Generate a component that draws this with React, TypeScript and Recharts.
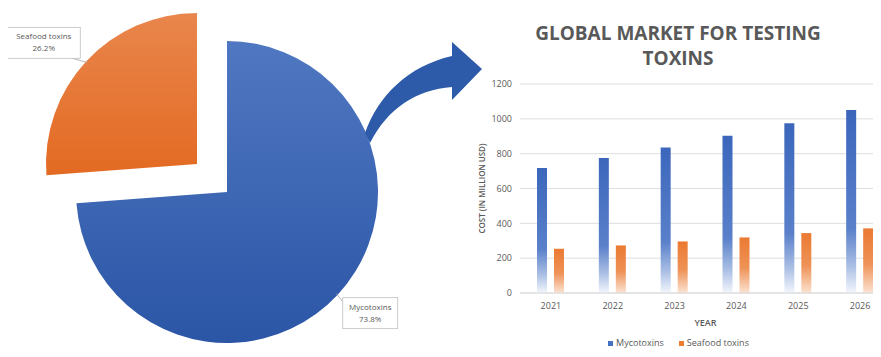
import React from 'react';
import { PieChart, Pie, Cell, BarChart, Bar, XAxis, YAxis, CartesianGrid, Legend } from 'recharts';

const shareNames = ['Mycotoxins', 'Seafood toxins'];
const shareValues = [73.8, 26.2];

const years = ['2021', '2022', '2023', '2024', '2025', '2026'];
const mycotoxins = [718, 775, 836, 903, 975, 1051];
const seafood = [254, 273, 296, 319, 344, 371];
const costTicks = [0, 200, 400, 600, 800, 1000, 1200];

const pieData = shareNames.map((name, i) => ({ name, value: shareValues[i] }));
const barData = years.map((year, i) => ({ year, Mycotoxins: mycotoxins[i], 'Seafood toxins': seafood[i] }));

const GRAY = '#595959';
const FONT = '"Open Sans", "DejaVu Sans", sans-serif';
const RADIAN = Math.PI / 180;

// boxed data label with a short leader line, only for the given slice
function boxLabel(show: number) {
  return (p: any) => {
    if (p.index !== show) return null;
    const cos = Math.cos(-p.midAngle * RADIAN);
    const sin = Math.sin(-p.midAngle * RADIAN);
    const px = p.cx + p.outerRadius * cos;
    const py = p.cy + p.outerRadius * sin;
    const w = p.name.length * 4.5 + 10;
    const h = 31;
    const bx = cos < 0 ? px - 6 - w : px + 5;
    const by = sin < 0 ? py - 3 - h : py + 3;
    const lx = cos < 0 ? bx + w - 8 : bx;
    const ly = sin < 0 ? by + h : by + 4;
    return (
      <g>
        <line x1={lx} y1={ly} x2={px - cos * 2} y2={py - sin * 2} stroke="#a6a6a6" strokeWidth={0.8} />
        <rect x={bx} y={by} width={w} height={h} fill="#fff" stroke="#bfbfbf" strokeWidth={0.8} />
        <text x={bx + w / 2} y={by + 12} textAnchor="middle" fontSize={8} fill={GRAY} fontFamily={FONT}>
          {p.name}
        </text>
        <text x={bx + w / 2} y={by + 24} textAnchor="middle" fontSize={8} fill={GRAY} fontFamily={FONT}>
          {(p.percent * 100).toFixed(1)}%
        </text>
      </g>
    );
  };
}

function LegendContent() {
  const items = [
    { label: 'Mycotoxins', color: '#4472c4' },
    { label: 'Seafood toxins', color: '#ed7d31' },
  ];
  return (
    <div style={{ height: 12, display: 'flex', justifyContent: 'center', alignItems: 'center', gap: 15, paddingRight: 12 }}>
      {items.map((it) => (
        <div key={it.label} style={{ display: 'flex', alignItems: 'center', gap: 3, fontSize: 9, color: GRAY, fontFamily: FONT, lineHeight: '12px' }}>
          <span style={{ width: 5, height: 5, background: it.color, display: 'inline-block' }} />
          {it.label}
        </div>
      ))}
    </div>
  );
}

export default function App() {
  return (
    <div style={{ position: 'relative', width: 881, height: 357, margin: -8, overflow: 'hidden', background: '#fff', fontFamily: FONT }}>
      <div style={{ position: 'absolute', left: 0, top: 0 }}>
        <PieChart width={440} height={357} margin={{ top: 0, right: 0, bottom: 0, left: 0 }}>
          <defs>
            <linearGradient id="pieBlue" x1="0" y1="0" x2="0" y2="1">
              <stop offset="0%" stopColor="#5077c1" />
              <stop offset="100%" stopColor="#2b56a6" />
            </linearGradient>
            <linearGradient id="pieOrange" x1="0" y1="0" x2="0" y2="1">
              <stop offset="0%" stopColor="#e9864c" />
              <stop offset="100%" stopColor="#e36a22" />
            </linearGradient>
          </defs>
          <Pie
            data={pieData}
            dataKey="value"
            nameKey="name"
            cx={227}
            cy={192}
            outerRadius={151}
            startAngle={90}
            endAngle={-270}
            stroke="none"
            labelLine={false}
            label={boxLabel(0)}
            isAnimationActive={false}
          >
            <Cell fill="url(#pieBlue)" />
            <Cell fill="transparent" />
          </Pie>
          {/* exploded slice */}
          <Pie
            data={pieData}
            dataKey="value"
            nameKey="name"
            cx={197}
            cy={164}
            outerRadius={151}
            startAngle={90}
            endAngle={-270}
            stroke="none"
            labelLine={false}
            label={boxLabel(1)}
            isAnimationActive={false}
          >
            <Cell fill="transparent" />
            <Cell fill="url(#pieOrange)" />
          </Pie>
        </PieChart>
      </div>

      <svg width={881} height={357} style={{ position: 'absolute', left: 0, top: 0, pointerEvents: 'none' }}>
        <path
          d="M 365 133 C 378 96, 408 66, 452 56 L 452 42 L 482 69 L 452 100 L 452 87 C 416 90, 388 108, 370 143 Z"
          fill="#2d5ba9"
        />
      </svg>

      <div style={{ position: 'absolute', left: 478, top: 21, width: 400, textAlign: 'center', color: GRAY, fontWeight: 700, fontSize: 19, lineHeight: '25px', fontFamily: FONT }}>
        GLOBAL MARKET FOR TESTING
        <br />
        TOXINS
      </div>

      <div style={{ position: 'absolute', left: 470, top: 0 }}>
        <BarChart width={421} height={357} data={barData} margin={{ top: 84, right: 0, bottom: 8, left: 8 }} barSize={10} barGap={7}>
          <defs>
            <linearGradient id="barBlue" x1="0" y1="0" x2="0" y2="1">
              <stop offset="0%" stopColor="#3b66bb" />
              <stop offset="65%" stopColor="#5a80ca" />
              <stop offset="85%" stopColor="#a9bee4" />
              <stop offset="100%" stopColor="#f3f6fc" />
            </linearGradient>
            <linearGradient id="barOrange" x1="0" y1="0" x2="0" y2="1">
              <stop offset="0%" stopColor="#ea7a32" />
              <stop offset="55%" stopColor="#ef9257" />
              <stop offset="100%" stopColor="#fbe3d2" />
            </linearGradient>
          </defs>
          <CartesianGrid vertical={false} stroke="#dedede" />
          <XAxis
            dataKey="year"
            height={44}
            tickLine={false}
            axisLine={{ stroke: '#d9d9d9' }}
            tick={{ fontSize: 9, fill: GRAY, fontFamily: FONT }}
            tickMargin={4}
            label={{ value: 'YEAR', position: 'insideBottom', offset: 11, style: { fontSize: 9, fill: GRAY, fontWeight: 600, fontFamily: FONT } }}
          />
          <YAxis
            width={42}
            domain={[0, 1200]}
            ticks={costTicks}
            tickLine={false}
            axisLine={false}
            tick={{ fontSize: 9, fill: GRAY, fontFamily: FONT }}
            label={{ value: 'COST (IN MILLION USD)', angle: -90, position: 'insideLeft', offset: 4, style: { textAnchor: 'middle', fontSize: 8, fill: GRAY, fontWeight: 600, fontFamily: FONT } }}
          />
          <Legend verticalAlign="bottom" content={<LegendContent />} />
          <Bar dataKey="Mycotoxins" fill="url(#barBlue)" isAnimationActive={false} />
          <Bar dataKey="Seafood toxins" fill="url(#barOrange)" isAnimationActive={false} />
        </BarChart>
      </div>
    </div>
  );
}
